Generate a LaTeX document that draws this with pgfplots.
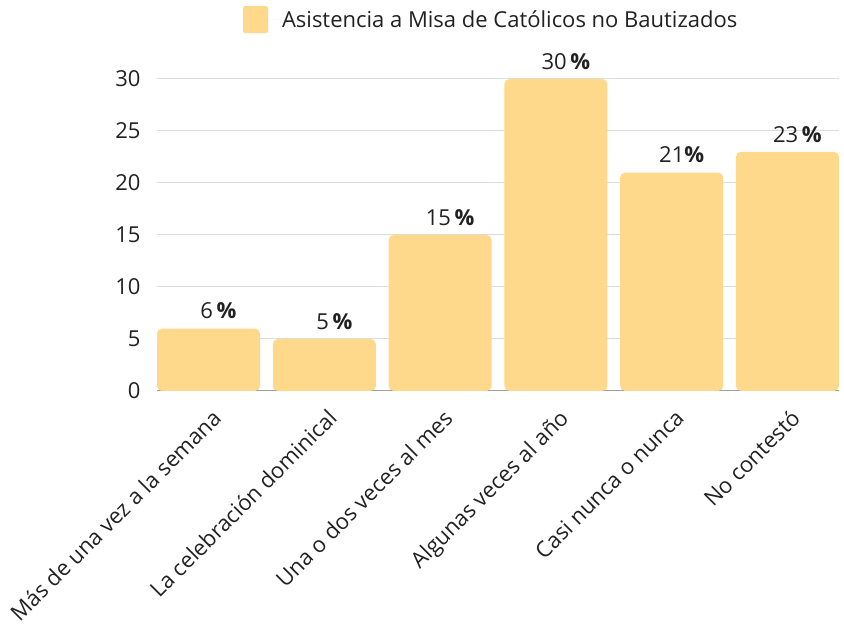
\documentclass[border=0pt]{standalone}
\usepackage{fontspec}
\setmainfont{Open Sans}
\usepackage{pgfplots}
\pgfplotsset{compat=1.18}
\usetikzlibrary{calc}

\definecolor{barcol}{HTML}{FED98B}
\definecolor{txt}{HTML}{212121}
\definecolor{gridc}{HTML}{DDDDDD}
\definecolor{basec}{HTML}{9E9E9E}

\newcommand{\fs}{\fontsize{22}{26}\selectfont}

\begin{document}
\begin{tikzpicture}
\begin{axis}[
  name=ax,
  scale only axis,
  width=682pt, height=312pt,
  xmin=-0.445, xmax=5.445,
  ymin=0, ymax=30,
  ybar, bar width=103pt, bar shift=0pt,
  xtick={0,...,5},
  xticklabels={Más de una vez a la semana, La celebración dominical, Una o dos veces al mes, Algunas veces al año, Casi nunca o nunca, No contestó},
  ytick={0,5,...,30},
  major tick length=0pt,
  axis x line=bottom, axis y line=left,
  x axis line style={draw=basec, line width=1pt, -},
  y axis line style={draw=none},
  ymajorgrids,
  grid style={draw=gridc, line width=1pt},
  /pgf/number format/assume math mode=true,
  tick label style={font=\fs, text=txt},
  yticklabel style={xshift=-13pt},
  xticklabel style={rotate=45, anchor=north east, xshift=-7pt, yshift=-10pt},
  legend style={at={(0.49,1.19)}, anchor=center, draw=none, font=\fs, text=txt, fill=none},
  legend image code/.code={\fill[barcol, rounded corners=2pt] (0pt,-13.5pt) rectangle (25pt,13.5pt);
    \path (0pt,0pt) -- (37pt,0pt);},
  point meta=explicit symbolic,
  nodes near coords,
  nodes near coords style={font=\fs, text=txt, xshift=10pt, anchor=south, yshift=6pt},
]
\addplot[fill=barcol, draw=none, rounded corners=5pt] table[meta=lab] {
x y lab
0 6 {6\,\textbf{\%}}
1 5 {5\,\textbf{\%}}
2 15 {15\,\textbf{\%}}
3 30 {30\,\textbf{\%}}
4 21 {21\textbf{\%}}
5 23 {23\,\textbf{\%}}
};
\addlegendentry{Asistencia a Misa de Católicos no Bautizados}
\end{axis}
\pgfresetboundingbox
\path ($(ax.south west)+(-157pt,-234pt)$) rectangle ($(ax.north east)+(5pt,79pt)$);
\end{tikzpicture}
\end{document}
